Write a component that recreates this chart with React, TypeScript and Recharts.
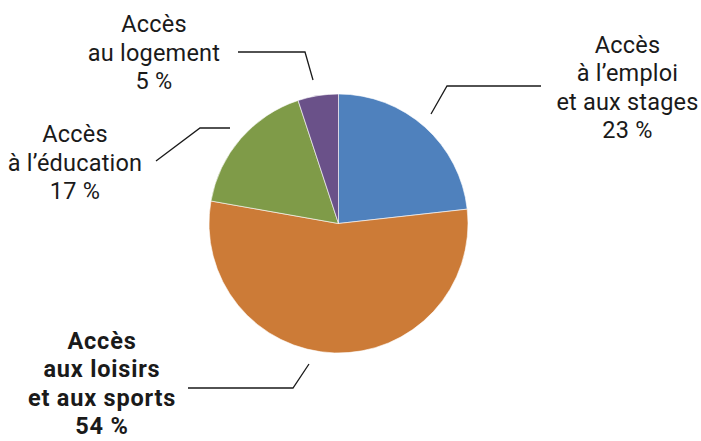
import { PieChart, Pie, Cell } from 'recharts';

const categories = [
  'Accès|à l’emploi|et aux stages',
  'Accès|aux loisirs|et aux sports',
  'Accès|à l’éducation',
  'Accès|au logement',
];
const shares = [23, 54, 17, 5];
const percentLabels = ['23 %', '54 %', '17 %', '5 %'];
const emphasized = [false, true, false, false];

const COLORS = ['#4F81BD', '#CC7B37', '#7F9B48', '#6A5189'];

const data = categories.map((name, i) => ({ name, value: shares[i] }));

// label placement relative to pie centre: text centre x, first baseline y, leader polyline
const LAYOUT = [
  { tx: 289, ty: -171, pts: [[92.5, -109.5], [108.5, -137.5], [202.5, -137.5]] },
  { tx: -236.5, ty: 125, pts: [[-150.5, 164.5], [-45.5, 164.5], [-29.5, 140.5]] },
  { tx: -263.5, ty: -81.5, pts: [[-182.5, -62.5], [-138.5, -95.5], [-108.5, -95.5]] },
  { tx: -184.5, ty: -191.5, pts: [[-100.5, -171.5], [-33.5, -171.5], [-25.5, -143.5]] },
];

const LINE_H = 28.5;

const renderLabel = (props: any) => {
  const { cx, cy, index } = props;
  const l = LAYOUT[index];
  const lines = [...categories[index].split('|'), percentLabels[index]];
  const pts = l.pts.map(([x, y]) => `${cx + x},${cy + y}`).join(' ');
  const bold = emphasized[index];
  return (
    <g key={`lbl-${index}`}>
      <polyline points={pts} fill="none" stroke="#1a1a1a" strokeWidth={1.3} />
      <text
        x={cx + l.tx}
        y={cy + l.ty}
        textAnchor="middle"
        fill="#1a1a1a"
        fontFamily="Roboto, sans-serif"
        fontSize={23.5}
        fontWeight={bold ? 700 : 400}
        letterSpacing={bold ? 0.8 : 0.2}
      >
        {lines.map((t, i) => (
          <tspan key={i} x={cx + l.tx} dy={i === 0 ? 0 : LINE_H}>{t}</tspan>
        ))}
      </text>
    </g>
  );
};

export default function App() {
  return (
    <div style={{ position: 'absolute', left: 0, top: 0, background: '#fff' }}>
      <PieChart width={701} height={441} margin={{ top: 0, right: 0, bottom: 0, left: 0 }}>
        <Pie
          data={data}
          dataKey="value"
          cx={338.5}
          cy={223.5}
          outerRadius={129.5}
          startAngle={90}
          endAngle={-270}
          stroke="#ffffff"
          strokeWidth={0.6}
          label={renderLabel}
          labelLine={false}
          isAnimationActive={false}
        >
          {data.map((_, i) => (
            <Cell key={i} fill={COLORS[i]} />
          ))}
        </Pie>
      </PieChart>
    </div>
  );
}
